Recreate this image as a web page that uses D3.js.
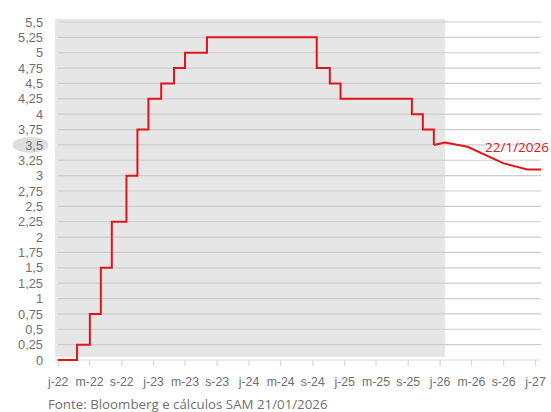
<!DOCTYPE html>
<html>
<head>
<meta charset="utf-8">
<script src="https://cdn.jsdelivr.net/npm/d3@7"></script>
<style>
  body { margin: 0; background: #fff; }
  svg { display: block; font-family: "Open Sans", sans-serif; }
</style>
</head>
<body>
<svg id="chart" width="551" height="412"></svg>
<script>
// Policy rate history (steps) and market-implied path after 22/1/2026
const rateDates = ["2022-01-01", "2022-03-16", "2022-05-04", "2022-06-15", "2022-07-27", "2022-09-21",
  "2022-11-02", "2022-12-14", "2023-02-01", "2023-03-22", "2023-05-03", "2023-07-26",
  "2024-09-18", "2024-11-07", "2024-12-18", "2025-09-17", "2025-10-29", "2025-12-10"];
const rateValues = [0, 0.25, 0.75, 1.5, 2.25, 3, 3.75, 4.25, 4.5, 4.75, 5, 5.25,
  4.75, 4.5, 4.25, 4, 3.75, 3.5];

const forwardDates = ["2025-12-10", "2026-01-22", "2026-04-18", "2026-09-03", "2026-12-03", "2027-01-25"];
const forwardValues = [3.5, 3.54, 3.47, 3.2, 3.1, 3.1];

const tickLabels = ["j-22", "m-22", "s-22", "j-23", "m-23", "s-23", "j-24", "m-24", "s-24",
  "j-25", "m-25", "s-25", "j-26", "m-26", "s-26", "j-27"];
const yTicks = d3.range(0, 5.5001, 0.25);

const shadeEnd = "2026-01-22";
const annotation = "22/1/2026";
const source = "Fonte: Bloomberg e cálculos SAM 21/01/2026";

const parse = d3.timeParse("%Y-%m-%d");
const svg = d3.select("#chart");

const x = d3.scaleTime()
  .domain([new Date(2022, 0, 1), new Date(2027, 0, 1)])
  .range([57.7, 535]);
const y = d3.scaleLinear().domain([0, 5.5]).range([360, 22]);
const gridRight = 541;

// shaded history area
svg.append("rect")
  .attr("x", 55).attr("y", 19)
  .attr("width", x(parse(shadeEnd)) - 55)
  .attr("height", 357 - 19)
  .attr("fill", "#e6e6e6");

// gridlines
svg.append("g").selectAll("line")
  .data(yTicks)
  .join("line")
  .attr("x1", 58).attr("x2", gridRight)
  .attr("y1", d => y(d)).attr("y2", d => y(d))
  .attr("stroke", d => d === 0 ? "#dcdcdc" : "#cdcdcd")
  .attr("stroke-width", 1.2);

// y axis labels
const yAxis = d3.axisLeft(y)
  .tickValues(yTicks)
  .tickSize(0)
  .tickPadding(0)
  .tickFormat(d => String(d).replace(".", ","));

// highlight behind 3,5
svg.append("ellipse")
  .attr("cx", 30.5).attr("cy", y(3.5))
  .attr("rx", 18).attr("ry", 8)
  .attr("fill", "#dedede");

const gy = svg.append("g").attr("transform", "translate(43,0)").call(yAxis);
gy.select(".domain").remove();
gy.selectAll("text").attr("fill", "#707070").attr("font-size", 12.8);

// x axis
const tickDates = tickLabels.map((_, i) => new Date(2022, i * 4, 1));
const xAxis = d3.axisBottom(x)
  .tickValues(tickDates)
  .tickSize(6)
  .tickPadding(11.5)
  .tickFormat((d, i) => tickLabels[i]);
const gx = svg.append("g").attr("transform", "translate(0,360)").call(xAxis);
gx.select(".domain").remove();
gx.selectAll("line").attr("stroke", "#d6d6d6").attr("stroke-width", 1.2);
gx.selectAll("text").attr("fill", "#707070").attr("font-size", 12.3);

// lines
const hist = rateDates.map((d, i) => ({ date: parse(d), v: rateValues[i] }));
const fwd = forwardDates.map((d, i) => ({ date: parse(d), v: forwardValues[i] }));

const stepLine = d3.line().x(d => x(d.date)).y(d => y(d.v)).curve(d3.curveStepAfter);
const fwdLine = d3.line().x(d => x(d.date)).y(d => y(d.v));

svg.append("path")
  .attr("d", stepLine(hist))
  .attr("fill", "none")
  .attr("stroke", "#e4141b")
  .attr("stroke-width", 2)
  .attr("stroke-linejoin", "miter");

svg.append("path")
  .attr("d", fwdLine(fwd))
  .attr("fill", "none")
  .attr("stroke", "#e4141b")
  .attr("stroke-width", 2);

svg.append("text")
  .attr("x", 549).attr("y", 152)
  .attr("text-anchor", "end")
  .attr("fill", "#e4141b")
  .attr("font-size", 13.5)
  .text(annotation);

svg.append("text")
  .attr("x", 48).attr("y", 408.5)
  .attr("fill", "#707070")
  .attr("font-size", 13.3)
  .text(source);
</script>
</body>
</html>
